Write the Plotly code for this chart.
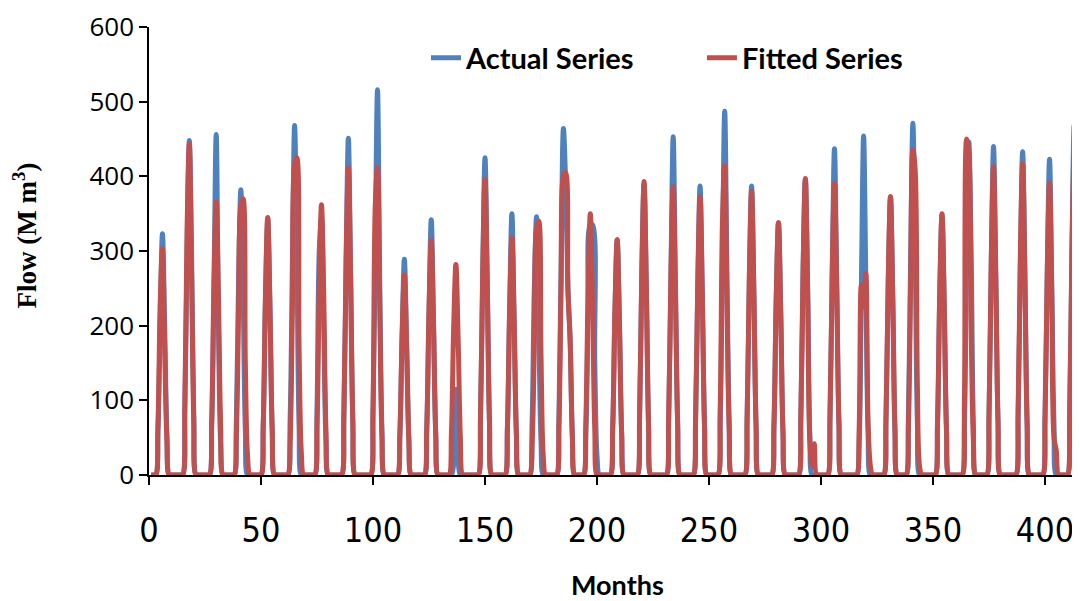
import plotly.graph_objects as go

# Monthly flow (M m3), one row per year (12 months)
actual_series = [
    0, 0, 0, 60, 200, 323, 200, 55, 0, 0, 0, 0,
    0, 0, 0, 85, 300, 448, 300, 80, 0, 0, 0, 0,
    0, 0, 0, 70, 250, 456, 200, 40, 0, 0, 0, 0,
    0, 0, 75, 265, 382, 250, 60, 0, 0, 0, 0, 0,
    0, 0, 68, 240, 343, 223, 60, 0, 0, 0, 0, 0,
    0, 0, 75, 280, 468, 300, 65, 0, 0, 0, 0, 0,
    0, 0, 90, 300, 345, 200, 45, 0, 0, 0, 0, 0,
    0, 0, 80, 288, 451, 267, 70, 0, 0, 0, 0, 0,
    0, 0, 0, 80, 300, 516, 260, 60, 0, 0, 0, 0,
    0, 0, 0, 55, 188, 289, 174, 48, 0, 0, 0, 0,
    0, 0, 0, 63, 220, 342, 204, 55, 0, 0, 0, 0,
    0, 0, 0, 15, 115, 20, 0, 0, 0, 0, 0, 0,
    0, 0, 0, 80, 277, 425, 257, 70, 0, 0, 0, 0,
    0, 0, 0, 64, 223, 350, 207, 55, 0, 0, 0, 0,
    0, 0, 70, 250, 346, 200, 45, 0, 0, 0, 0, 0,
    0, 0, 80, 290, 464, 390, 250, 180, 50, 0, 0, 0,
    0, 0, 55, 210, 335, 335, 150, 25, 0, 0, 0, 0,
    0, 0, 63, 220, 315, 205, 55, 0, 0, 0, 0, 0,
    0, 0, 78, 273, 390, 254, 68, 0, 0, 0, 0, 0,
    0, 0, 0, 77, 270, 453, 251, 68, 0, 0, 0, 0,
    0, 0, 0, 74, 260, 387, 242, 65, 0, 0, 0, 0,
    0, 0, 75, 290, 487, 270, 70, 0, 0, 0, 0, 0,
    0, 0, 76, 266, 387, 247, 66, 0, 0, 0, 0, 0,
    0, 0, 68, 237, 338, 220, 58, 0, 0, 0, 0, 0,
    0, 0, 80, 277, 396, 257, 55, 0, 0, 0, 0, 0,
    0, 0, 0, 78, 273, 437, 254, 68, 0, 0, 0, 0,
    0, 0, 0, 0, 40, 250, 454, 260, 55, 0, 0, 0,
    0, 0, 0, 0, 75, 260, 372, 242, 55, 0, 0, 0,
    0, 0, 80, 290, 471, 300, 70, 0, 0, 0, 0, 0,
    0, 0, 0, 70, 245, 348, 227, 60, 0, 0, 0, 0,
    0, 0, 0, 65, 290, 446, 300, 70, 0, 0, 0, 0,
    0, 0, 82, 289, 440, 268, 72, 0, 0, 0, 0, 0,
    0, 0, 0, 80, 285, 433, 275, 72, 0, 0, 0, 0,
    0, 0, 0, 78, 274, 423, 254, 68, 0, 0, 0, 0,
    0, 0, 85, 300, 469, 278, 75, 0, 0, 0, 0, 0,
]

fitted_series = [
    0, 0, 0, 65, 230, 303, 170, 45, 0, 0, 0, 0,
    0, 0, 0, 95, 330, 443, 270, 70, 0, 0, 0, 0,
    0, 0, 0, 70, 256, 366, 240, 65, 0, 0, 0, 0,
    0, 0, 55, 220, 360, 370, 150, 25, 0, 0, 0, 0,
    0, 0, 68, 240, 345, 225, 60, 0, 0, 0, 0, 0,
    0, 0, 45, 220, 415, 425, 170, 30, 0, 0, 0, 0,
    0, 0, 65, 250, 362, 240, 60, 0, 0, 0, 0, 0,
    0, 0, 80, 288, 411, 267, 70, 0, 0, 0, 0, 0,
    0, 0, 0, 90, 360, 411, 230, 50, 0, 0, 0, 0,
    0, 0, 0, 55, 188, 268, 174, 48, 0, 0, 0, 0,
    0, 0, 0, 63, 220, 314, 204, 55, 0, 0, 0, 0,
    0, 0, 56, 197, 282, 183, 50, 0, 0, 0, 0, 0,
    0, 0, 0, 80, 277, 396, 257, 70, 0, 0, 0, 0,
    0, 0, 0, 64, 223, 318, 207, 55, 0, 0, 0, 0,
    0, 0, 40, 170, 330, 340, 160, 25, 0, 0, 0, 0,
    0, 0, 65, 260, 400, 405, 250, 180, 50, 0, 0, 0,
    0, 0, 70, 245, 350, 230, 60, 0, 0, 0, 0, 0,
    0, 0, 63, 220, 315, 205, 55, 0, 0, 0, 0, 0,
    0, 0, 78, 273, 393, 254, 68, 0, 0, 0, 0, 0,
    0, 0, 0, 77, 270, 386, 251, 68, 0, 0, 0, 0,
    0, 0, 0, 74, 260, 372, 242, 65, 0, 0, 0, 0,
    0, 0, 90, 340, 414, 230, 60, 0, 0, 0, 0, 0,
    0, 0, 76, 266, 380, 247, 66, 0, 0, 0, 0, 0,
    0, 0, 68, 237, 338, 220, 58, 0, 0, 0, 0, 0,
    0, 0, 80, 277, 397, 250, 45, 12, 42, 0, 0, 0,
    0, 0, 0, 78, 273, 390, 254, 68, 0, 0, 0, 0,
    0, 0, 0, 0, 60, 254, 225, 270, 70, 13, 0, 0,
    0, 0, 0, 0, 75, 260, 373, 242, 65, 0, 0, 0,
    0, 0, 65, 260, 435, 410, 120, 11, 0, 0, 0, 0,
    0, 0, 0, 70, 245, 350, 227, 60, 0, 0, 0, 0,
    0, 0, 0, 100, 450, 430, 200, 45, 0, 0, 0, 0,
    0, 0, 82, 289, 413, 268, 72, 0, 0, 0, 0, 0,
    0, 0, 0, 90, 300, 417, 260, 65, 0, 0, 0, 0,
    0, 0, 0, 78, 274, 391, 240, 50, 33, 0, 0, 0,
    0, 0, 85, 300, 428, 278, 75, 0, 0, 0, 0, 0,
]

months = list(range(1, len(actual_series) + 1))
x_ticks = [0, 50, 100, 150, 200, 250, 300, 350, 400]
y_ticks = [0, 100, 200, 300, 400, 500, 600]

BLUE = "#4F81BD"
RED = "#C0504D"

fig = go.Figure()
fig.add_trace(go.Scatter(
    x=months, y=actual_series, mode="lines", name="Actual Series",
    line=dict(color=BLUE, width=5, shape="spline", smoothing=1),
    cliponaxis=False,
))
fig.add_trace(go.Scatter(
    x=months, y=fitted_series, mode="lines", name="Fitted Series",
    line=dict(color=RED, width=5, shape="spline", smoothing=1),
    cliponaxis=False,
))

# The page body adds an 8 px offset, so the figure is 8 px smaller in each direction
fig.update_layout(
    width=1072, height=593,
    margin=dict(l=141, r=0, t=19, b=126, autoexpand=False),
    paper_bgcolor="white", plot_bgcolor="white",
    showlegend=True,
    legend=dict(
        orientation="h", x=0.2975, y=0.931, xanchor="left", yanchor="middle",
        font=dict(family="Lato", size=29, color="black", weight="bold"),
        bgcolor="rgba(0,0,0,0)", entrywidth=231, entrywidthmode="pixels",
    ),
    xaxis=dict(
        range=[0, 415.6], tickvals=x_ticks, ticktext=[str(v) for v in x_ticks],
        automargin=False,
        showgrid=False, zeroline=False, showline=True, linecolor="black", linewidth=1.5,
        ticks="outside", ticklen=8, tickwidth=1.5, tickcolor="black",
        tickfont=dict(family="Liberation Sans Narrow, DejaVu Sans Condensed, sans-serif", size=34, color="black"),
        ticklabelstandoff=16,
    ),
    yaxis=dict(
        range=[0, 600], tickvals=y_ticks, automargin=False,
        showgrid=False, zeroline=False, showline=True, linecolor="black", linewidth=1.5,
        ticks="outside", ticklen=8, tickwidth=1.5, tickcolor="black",
        tickfont=dict(family="Open Sans", size=26, color="black"),
        ticklabelstandoff=0,
    ),
    annotations=[
        dict(text="Months", xref="paper", yref="paper", x=0.503, y=-0.2455,
             xanchor="center", yanchor="middle", showarrow=False,
             font=dict(family="Lato", size=27, color="black", weight="bold")),
        dict(text="<b>Flow (M m<sup>3</sup>)</b>", xref="paper", yref="paper",
             x=-0.133, y=0.535, xanchor="center", yanchor="middle", textangle=-90,
             showarrow=False,
             font=dict(family="Liberation Serif", size=27, color="black")),
    ],
)

fig.write_html("out.html")
